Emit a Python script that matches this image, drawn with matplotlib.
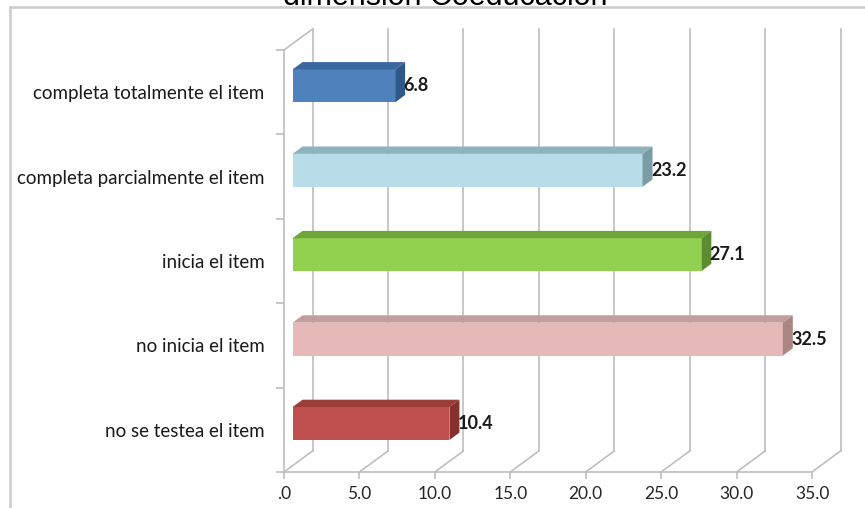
import numpy as np
import matplotlib
matplotlib.use('Agg')
import matplotlib.pyplot as plt
from matplotlib.patches import Polygon
from matplotlib.lines import Line2D

plt.rcParams['font.family'] = ['Lato', 'DejaVu Sans']

# --- Data ---
categorias = ['no se testea el item', 'no inicia el item', 'inicia el item',
              'completa parcialmente el item', 'completa totalmente el item']
porcentajes = [10.4, 32.5, 27.1, 23.2, 6.8]
titulo = 'dimensión Coeducación'
x_ticks = [0, 5, 10, 15, 20, 25, 30, 35]
x_ticklabels = ['.0', '5.0', '10.0', '15.0', '20.0', '25.0', '30.0', '35.0']

# colores Excel: frente, cara superior, cara lateral
col_frente = ['#C0504D', '#E6B9B8', '#92D050', '#B7DEE8', '#4F81BD']
col_arriba = ['#9C3D3A', '#C49C9B', '#6FA53B', '#8FB3BC', '#3A679E']
col_lado = ['#86312F', '#A98584', '#5C8C2F', '#7A9CA5', '#2F5788']

W, H = 865, 508
fig = plt.figure(figsize=(W / 100, H / 100), dpi=100)
fig.patch.set_facecolor('white')

# plano frontal del grafico
ax = fig.add_axes([284 / W, (H - 472) / H, (812 - 284) / W, (472 - 50) / H])
ax.set_xlim(0, 35)
ax.set_ylim(0, 5)
ax.patch.set_alpha(0)

# proyeccion oblicua: profundidad z en [0, 1]
DX = 28.5 / (528 / 35)
DY = 21 / (422 / 5)


def proj(x, y, z):
    return x + z * DX, y + z * DY


grid_col = '#BEBEBE'
n = len(categorias)

# pared del fondo y suelo
for v in x_ticks:
    x0, y0 = proj(v, 0, 1)
    x1, y1 = proj(v, n, 1)
    ax.add_line(Line2D([x0, x1], [y0, y1], color=grid_col, lw=1.2, clip_on=False, zorder=1))
    xa, ya = proj(v, 0, 0)
    ax.add_line(Line2D([xa, x0], [ya, y0], color=grid_col, lw=1.2, clip_on=False, zorder=1))
# borde superior de la pared izquierda
xa, ya = proj(0, n, 0)
xb, yb = proj(0, n, 1)
ax.add_line(Line2D([xa, xb], [ya, yb], color=grid_col, lw=1.2, clip_on=False, zorder=1))

# barras 3D
z0, z1 = 0.3, 0.65
alto = 0.39
centros = np.arange(n) + 0.5
for i, (c, v) in enumerate(zip(centros, porcentajes)):
    ax.barh(c + z0 * DY, v, left=z0 * DX, height=alto, color=col_frente[i],
            edgecolor='none', zorder=3)
    top = c + alto / 2
    bot = c - alto / 2
    cara_sup = [proj(0, top, z0), proj(v, top, z0), proj(v, top, z1), proj(0, top, z1)]
    cara_lat = [proj(v, bot, z0), proj(v, top, z0), proj(v, top, z1), proj(v, bot, z1)]
    ax.add_patch(Polygon(cara_sup, closed=True, facecolor=col_arriba[i],
                         edgecolor='none', zorder=3, clip_on=False))
    ax.add_patch(Polygon(cara_lat, closed=True, facecolor=col_lado[i],
                         edgecolor='none', zorder=3, clip_on=False))
    tx, ty = proj(v, c, z1)
    ax.text(tx - 0.1, c + z0 * DY, f'{v:.1f}', ha='left', va='center',
            fontsize=13, fontweight='bold', color='#1A1A1A', zorder=4)

# ejes
for s in ['top', 'right']:
    ax.spines[s].set_visible(False)
for s in ['left', 'bottom']:
    ax.spines[s].set_color(grid_col)
    ax.spines[s].set_linewidth(1.2)

ax.set_xticks(x_ticks)
ax.set_xticklabels(x_ticklabels)
ax.tick_params(axis='x', length=5, width=1.2, color=grid_col, pad=5,
               labelsize=12.5, labelcolor='#262626')
ax.set_yticks(np.arange(n + 1))
ax.set_yticklabels([])
ax.set_yticks(centros, minor=True)
ax.set_yticklabels(categorias, minor=True)
ax.tick_params(axis='y', which='major', length=6, width=1.2, color=grid_col)
ax.tick_params(axis='y', which='minor', length=0, pad=14, labelsize=13.5,
               labelcolor='#1A1A1A')

# marco del area del grafico y titulo
fig.add_artist(Line2D([10 / W, 10 / W], [0, 1 - 7 / H], color='#CCCCCC', lw=1.8,
                      transform=fig.transFigure))
fig.add_artist(Line2D([10 / W, 1], [1 - 7 / H, 1 - 7 / H], color='#CCCCCC', lw=1.8,
                      transform=fig.transFigure))
fig.text(445 / W, 1 - 5 / H, titulo, ha='center', va='baseline', fontsize=22,
         family=['Liberation Sans', 'DejaVu Sans'], color='black')

fig.savefig('out.png', dpi=100, facecolor='white')
